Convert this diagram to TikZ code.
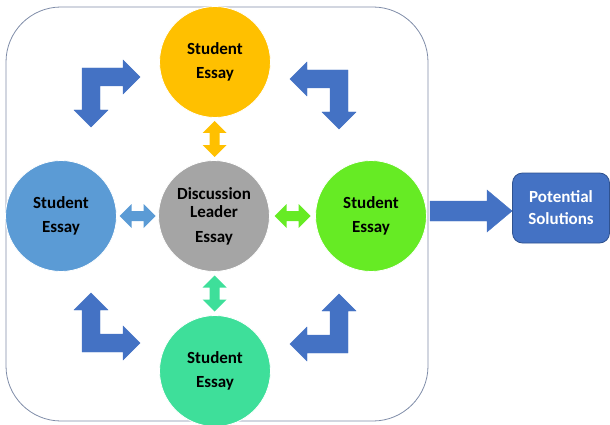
\documentclass[tikz,border=0pt]{standalone}
\usepackage{fontspec}
\setmainfont{Carlito}
\definecolor{cyel}{HTML}{FFC000}
\definecolor{cblu}{HTML}{5B9BD5}
\definecolor{cgry}{HTML}{A5A5A5}
\definecolor{cgrn}{HTML}{66EB24}
\definecolor{ctea}{HTML}{3EDF9A}
\definecolor{cdark}{HTML}{4472C4}
\definecolor{cedge}{HTML}{2F528F}
\definecolor{cframe}{HTML}{7F8CA8}
\begin{document}
\begin{tikzpicture}[x=1pt,y=-1pt,
  essay/.style={circle,minimum size=111pt,inner sep=0pt,draw=white,line width=0.8pt,
    align=center,font=\fontsize{17}{20.4}\selectfont\bfseries,text=black},
  darrow/.pic={\path[pic actions] (-18,0) -- (-6,-12) -- (-6,-5) -- (6,-5) -- (6,-12) -- (18,0)
      -- (6,12) -- (6,5) -- (-6,5) -- (-6,12) -- cycle;},
  bent/.pic={\path[pic actions] (0,0) -- (41,0) -- (41,-8) -- (58,9) -- (41,26) -- (41,18)
      -- (18,18) -- (18,42) -- (26,42) -- (9,59) -- (-8,42) -- (0,42) -- cycle;},
  bentstyle/.style={fill=cdark,draw=cdark,line width=0.4pt}]
\useasboundingbox (0,0) rectangle (610,425);
\draw[cframe,line width=0.8pt,rounded corners=55pt] (6,7) rectangle (428,421);
% circles
\node[essay,fill=cyel] (top) at (215,62) {Student\\[3.6pt]Essay};
\node[essay,fill=cblu] (left) at (61,216) {Student\\[3.6pt]Essay};
\node[essay,fill=cgry] (mid) at (214,216) {Discussion\\[-2.4pt]Leader\\[4.6pt]Essay};
\node[essay,fill=cgrn] (right) at (371,216) {Student\\[3.6pt]Essay};
\node[essay,fill=ctea] (bot) at (215,371) {Student\\[3.6pt]Essay};
% double arrows between circles
\path (top.south) -- (mid.north) coordinate[midway] (ta);
\path (left.east) -- (mid.west) coordinate[midway] (la);
\path (mid.east) -- (right.west) coordinate[midway] (ra);
\path (mid.south) -- (bot.north) coordinate[midway] (ba);
\pic[fill=cyel,rotate=90] at (ta) {darrow};
\pic[fill=cblu] at (la) {darrow};
\pic[fill=cgrn] at (ra) {darrow};
\pic[fill=ctea,rotate=90] at (ba) {darrow};
% bent arrows
\pic[bentstyle] at (82,68) {bent};
\pic[bentstyle,xscale=-1] at (348,70) {bent};
\pic[bentstyle,yscale=-1] at (82,352) {bent};
\pic[bentstyle,xscale=-1,yscale=-1] at (348,353) {bent};
% result box
\node[draw=cedge,fill=cdark,rounded corners=10pt,line width=0.8pt,minimum width=97pt,minimum height=70pt,
  align=center,text=white,font=\fontsize{17}{20.4}\selectfont\bfseries] (sol) at (561,208) {Potential\\[1.6pt]Solutions};
\coordinate (arrstart) at (430,211);
\fill[cdark,draw=cdark] (arrstart) ++(0,-10) -- (487,201) -- (487,190) -- (sol.west |- 0,211) -- (487,232)
  -- (487,221) -- (430,221) -- cycle;
\end{tikzpicture}
\end{document}
